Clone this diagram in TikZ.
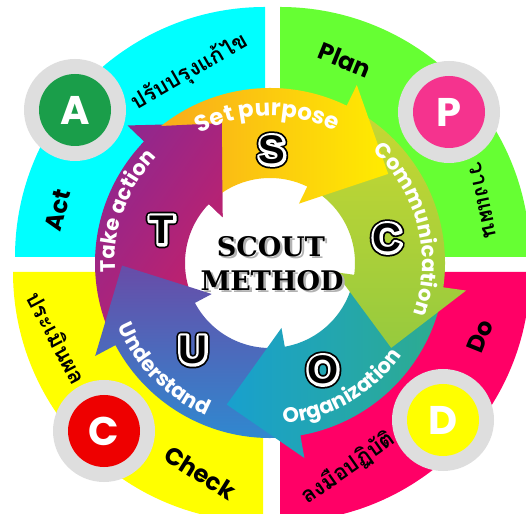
\documentclass[tikz,border=0pt]{standalone}
\usepackage{fontspec}
\setmainfont{Poppins}
\newfontfamily\thaifont[Script=Thai]{Loma}
\newfontfamily\titlefont{DejaVu Serif}
\newfontfamily\letterfont{Liberation Sans}
\usetikzlibrary{decorations.text}

\definecolor{qcyan}{HTML}{00FFFF}
\definecolor{qgreen}{HTML}{66FF33}
\definecolor{qyellow}{HTML}{FFFF00}
\definecolor{qpink}{HTML}{FF0066}
\definecolor{ringgray}{HTML}{DEDEDE}
\definecolor{acore}{HTML}{1A9E4A}
\definecolor{pcore}{HTML}{F5338E}
\definecolor{ccore}{HTML}{EE0000}
\definecolor{dcore}{HTML}{FFFF00}
\definecolor{tpurple}{RGB}{140,40,145}
\definecolor{tcrimson}{RGB}{198,32,104}

\newcommand{\arcfont}{\bfseries\fontsize{21}{21}\selectfont}
% outlined glyph: #1 line width, #2 stroke colour (pdf rgb), #3 text
\newcommand{\strokedtext}[3]{\special{pdf:literal direct q 1 Tr 1 j #1 w #2 RG}#3\special{pdf:literal direct Q}}
% one curved arrow of the ring, #1 = angle of the head base
\newcommand{\ringarrow}[1]{({#1+72}:175) arc[start angle={#1+72}, end angle=#1, radius=175]
  -- (#1:198) -- ({#1-27}:148) -- (#1:66) -- (#1:85)
  arc[start angle=#1, end angle={#1+72}, radius=85] -- cycle}

\tikzset{
  badge/.style={circle, fill=ringgray, minimum size=102pt, inner sep=0pt},
  badgecore/.style={circle, minimum size=72pt, inner sep=0pt, text=white,
    font=\bfseries\fontsize{40}{40}\selectfont},
  outerlabel/.style={font=\bfseries\fontsize{24}{24}\selectfont, text=black},
  thailabel/.style={font=\thaifont\bfseries\fontsize{22}{22}\selectfont, text=black},
  bigletter/.style={font=\letterfont\bfseries\fontsize{40}{40}\selectfont, inner sep=0pt},
  titleline/.style={font=\titlefont\bfseries\fontsize{27}{27}\selectfont, inner sep=0pt},
  arctext/.style={decorate, decoration={text along path, text align=center,
    text color=white, text={|\arcfont|#1}}},
  tarrow/.style={left color=tpurple, right color=tcrimson, shading angle=55},
}

\begin{document}
\begin{tikzpicture}[x=1pt, y=1pt]
\useasboundingbox (0,0) rectangle (526,513);

% four quarters
\fill[qcyan] (265,256) -- ++(90:250) arc[start angle=90, end angle=180, radius=250] -- cycle;
\fill[qgreen] (280,256) -- ++(0:250) arc[start angle=0, end angle=90, radius=250] -- cycle;
\fill[qyellow] (263,241) -- ++(180:250) arc[start angle=180, end angle=270, radius=250] -- cycle;
\fill[qpink] (280,241) -- ++(270:250) arc[start angle=270, end angle=360, radius=250] -- cycle;

% letter badges
\node[badge] (abadge) at (75,403) {};
\node[badgecore, fill=acore] (aletter) at (abadge) {A};
\node[badge] (pbadge) at (449,401) {};
\node[badgecore, fill=pcore] (pletter) at (pbadge) {P};
\node[badge] (cbadge) at (104,82) {};
\node[badgecore, fill=ccore] (cletter) at (cbadge) {C};
\node[badge] (dbadge) at (443,93) {};
\node[badgecore, fill=dcore] (dletter) at (dbadge) {D};

% outer labels
\node[outerlabel, rotate=-22] (plan) at (345,453) {Plan};
\node[thailabel, rotate=-78] (planth) at (483,313) {วางแผน};
\node[outerlabel, rotate=75] (act) at (58,303) {Act};
\node[thailabel, rotate=30] (actth) at (190,441) {ปรับปรุงแก้ไข};
\node[thailabel, rotate=-62] (checkth) at (57,175) {ประเมินผล};
\node[outerlabel, rotate=-32] (check) at (200,40) {Check};
\node[outerlabel, rotate=68] (do) at (480,177) {Do};
\node[thailabel, rotate=35] (doth) at (348,45) {ลงมือปฏิบัติ};

\begin{scope}[shift={(270,250)}]
  \fill[white] (0,0) circle[radius=86];
  % arrows, last one is laid again over the first tail
  \shade[tarrow] \ringarrow{136};
  \shade[top color={rgb,255:red,104;green,76;blue,168}, bottom color={rgb,255:red,44;green,140;blue,210}] \ringarrow{208};
  \shade[left color={rgb,255:red,24;green,160;blue,206}, right color={rgb,255:red,46;green,172;blue,142}] \ringarrow{280};
  \shade[top color={rgb,255:red,200;green,216;blue,50}, bottom color={rgb,255:red,150;green,202;blue,62}] \ringarrow{352};
  \shade[left color={rgb,255:red,248;green,166;blue,30}, right color={rgb,255:red,255;green,236;blue,0}] \ringarrow{64};
  \begin{scope}
    \clip (137.5:200) -- (109:148) -- (137.5:63) -- cycle;
    \shade[tarrow] \ringarrow{136};
  \end{scope}

  % texts on the ring
  \path[arctext={|\bfseries\fontsize{23}{23}\selectfont|Set purpose}] (136:147) arc[start angle=136, end angle=46, radius=147];
  \path[arctext={Communication}] (59:152) arc[start angle=59, end angle=-31, radius=152];
  \path[arctext={Organization}] (-105:161) arc[start angle=-105, end angle=-15, radius=161];
  \path[arctext={Understand}] (180:165) arc[start angle=180, end angle=270, radius=165];
  \path[arctext={Take action}] (205:155) arc[start angle=205, end angle=115, radius=155];
\end{scope}

% ring letters: black rim, white rim, black glyph
\foreach \name/\pos/\txt in {sl/{(272,363)}/S, cl/{(387,275)}/C, ol/{(323,143)}/O, ul/{(193,163)}/U, tl/{(162,283)}/T}{
  \node[bigletter] (\name) at \pos {\strokedtext{9}{0 0 0}{\txt}};
  \node[bigletter] at (\name) {\strokedtext{5.5}{1 1 1}{\txt}};
  \node[bigletter] at (\name) {\txt};
}

% centre title with soft shadow
\node[titleline, text=black!30] at (273.5,264) {SCOUT};
\node[titleline] (scout) at (271,266) {SCOUT};
\node[titleline, text=black!30] at (274.5,230) {METHOD};
\node[titleline] (method) at (272,232) {METHOD};
\end{tikzpicture}
\end{document}
